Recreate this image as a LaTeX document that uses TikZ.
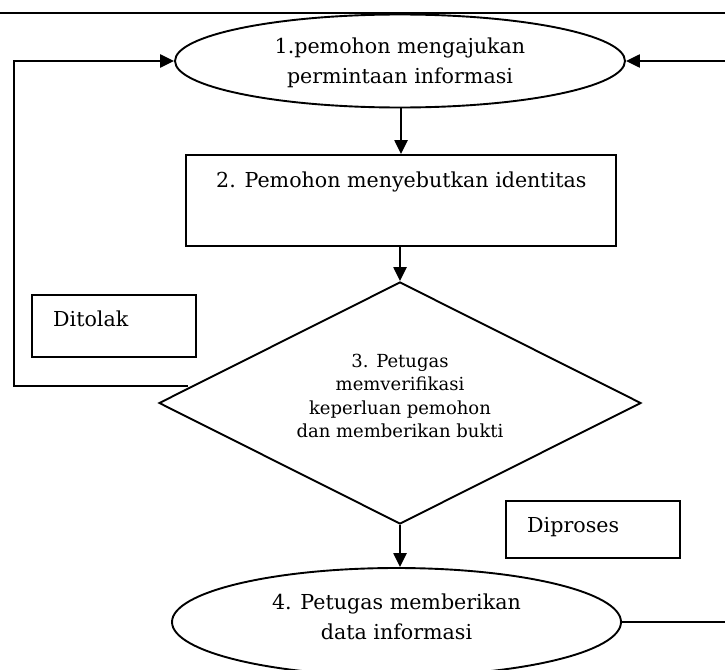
\documentclass[tikz,border=0pt]{standalone}
\usepackage{fontspec}
\setmainfont{DejaVu Serif}
\usetikzlibrary{arrows.meta,shapes.geometric}
\begin{document}
\begin{tikzpicture}[x=1pt,y=-1pt,
  shapeline/.style={draw=black,line width=1.9pt,inner sep=0pt},
  conn/.style={draw=black,line width=2.4pt,-{Triangle[length=14pt,width=13pt]}},
  plain/.style={draw=black,line width=2.4pt},
  bigtxt/.style={font=\fontsize{20.6}{30}\selectfont,inner sep=0pt},
  smalltxt/.style={font=\fontsize{18}{23.3}\selectfont,inner sep=0pt}]
\useasboundingbox (0,0) rectangle (725,669);
\coordinate (tl) at (0,13);
\coordinate (tr) at (725,13);
\coordinate (lc) at (14,0);
\coordinate (rr) at (725,0);
\draw[plain] (tl) -- (tr);
% shapes
\node[ellipse,shapeline,minimum width=450pt,minimum height=93pt,fill=white] (e1) at (400,61) {};
\node[bigtxt,align=center] (e1t) at (400,63) {1.pemohon mengajukan\\permintaan informasi};
\node[rectangle,shapeline,minimum width=430pt,minimum height=91pt] (b2) at (401,200.5) {};
\node[bigtxt,anchor=base west] (b2t) at (216,187) {2. Pemohon menyebutkan identitas};
\node[diamond,shapeline,minimum width=482pt,minimum height=242pt] (d3) at (400,403) {};
\node[smalltxt,align=center] (d3t) at (400,396) {3. Petugas\\memverifikasi\\keperluan pemohon\\dan memberikan bukti};
\node[rectangle,shapeline,minimum width=164pt,minimum height=62pt] (tol) at (114,326) {};
\node[bigtxt,anchor=base west] (tolt) at (53,326) {Ditolak};
\node[rectangle,shapeline,minimum width=174pt,minimum height=57pt] (pro) at (593,529.5) {};
\node[bigtxt,anchor=base west] (prot) at (527,532) {Diproses};
\node[ellipse,shapeline,minimum width=449pt,minimum height=108pt] (e4) at (396.5,622) {};
\node[bigtxt,align=center] (e4t) at (396.5,617) {4. Petugas memberikan\\data informasi};
% connectors
\draw[conn] (e1.south -| b2.north) -- (b2.north);
\draw[conn] (b2.south -| d3.north) -- (d3.north);
\draw[conn] (d3.south) -- (d3.south |- e4.north);
\coordinate (lp) at (188,386);
\draw[conn] (lp) -- (lp -| lc) |- (e1.west);
\draw[conn] (e1.east -| rr) -- (e1.east);
\draw[plain] (e4.east) -- (e4.east -| rr);
\end{tikzpicture}
\end{document}
